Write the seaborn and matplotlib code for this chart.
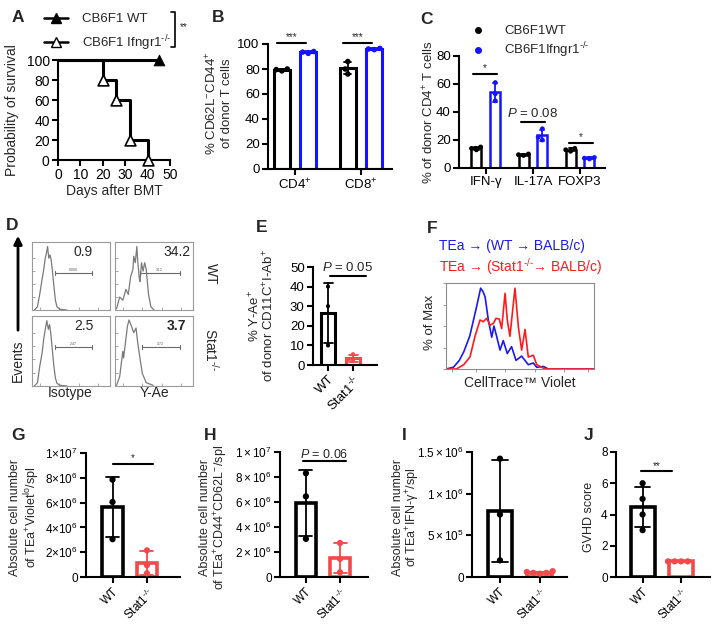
import matplotlib
matplotlib.use('Agg')
import matplotlib.pyplot as plt
import seaborn as sns
import pandas as pd
from matplotlib.lines import Line2D

# ---------------- data ----------------
# A: survival after BMT
surv_days_wt = [0, 45]
surv_pct_wt = [100, 100]
surv_days_ko = [0, 20, 26, 32, 40]
surv_pct_ko = [100, 80, 60, 20, 0]

# B: % CD62L-CD44+ of donor T cells
b_cells = ['CD4', 'CD8']
b_wt_cd4 = [79.5, 80.0, 78.5]
b_ko_cd4 = [93.5, 94.0, 92.5]
b_wt_cd8 = [86.0, 80.0, 76.0]
b_ko_cd8 = [96.0, 96.5, 95.5]

# C: % of donor CD4+ T cells
c_cyto = ['IFN-γ', 'IL-17A', 'FOXP3']
c_wt_ifng = [15, 14, 13]
c_ko_ifng = [61, 53, 48]
c_wt_il17 = [10, 9.5, 9]
c_ko_il17 = [28, 22, 20]
c_wt_foxp3 = [14, 13, 12]
c_ko_foxp3 = [7.5, 7, 6.5]

# D: flow histograms (axis fraction units), gate percentages
d_wt_iso_x = [0.03, 0.07, 0.10, 0.13, 0.15, 0.17, 0.185, 0.20, 0.215, 0.23, 0.245, 0.26, 0.28, 0.30, 0.32, 0.36, 0.45]
d_wt_iso_y = [0.0, 0.05, 0.25, 0.48, 0.62, 0.8, 0.88, 0.98, 0.8, 0.85, 0.78, 0.62, 0.38, 0.15, 0.05, 0.01, 0.0]
d_wt_yae_x = [0.02, 0.06, 0.10, 0.14, 0.17, 0.20, 0.23, 0.24, 0.26, 0.28, 0.29, 0.31, 0.32, 0.34, 0.36, 0.38, 0.40, 0.43, 0.46, 0.50]
d_wt_yae_y = [0.02, 0.2, 0.15, 0.32, 0.24, 0.51, 0.63, 0.83, 0.73, 0.98, 0.78, 0.5, 0.44, 0.73, 0.6, 0.73, 0.63, 0.24, 0.05, 0.0]
d_ko_iso_x = [0.03, 0.07, 0.10, 0.13, 0.15, 0.17, 0.19, 0.21, 0.225, 0.24, 0.26, 0.28, 0.30, 0.32, 0.36, 0.45]
d_ko_iso_y = [0.0, 0.05, 0.3, 0.5, 0.7, 0.85, 0.98, 0.85, 0.92, 0.8, 0.55, 0.3, 0.12, 0.04, 0.01, 0.0]
d_ko_yae_x = [0.02, 0.06, 0.10, 0.11, 0.14, 0.16, 0.18, 0.21, 0.24, 0.27, 0.29, 0.32, 0.35, 0.40, 0.49]
d_ko_yae_y = [0.01, 0.14, 0.52, 0.42, 0.71, 0.9, 0.99, 0.9, 0.8, 0.87, 0.66, 0.42, 0.19, 0.05, 0.01]
d_big = ['0.9', '34.2', '2.5', '3.7']
d_small = ['0.880', '34.2', '2.47', '3.72']

# E: % Y-Ae+ of donor CD11C+I-Ab+
e_wt = [40, 30, 10]
e_ko = [5.5, 3.0, 2.0]

# F: CellTrace Violet dilution (axis fraction units)
f_wt_x = [0.0, 0.05, 0.09, 0.12, 0.16, 0.19, 0.21, 0.234, 0.25, 0.264, 0.286, 0.309, 0.324, 0.342, 0.365,
          0.387, 0.414, 0.443, 0.473, 0.511, 0.556, 0.59, 0.613, 0.658, 0.691, 1.0]
f_wt_y = [0.0, 0.02, 0.1, 0.2, 0.38, 0.6, 0.75, 0.94, 0.9, 0.84, 0.57, 0.37, 0.5, 0.38, 0.22,
          0.33, 0.18, 0.26, 0.1, 0.15, 0.05, 0.07, 0.02, 0.03, 0.0, 0.0]
f_ko_x = [0.0, 0.07, 0.12, 0.162, 0.196, 0.23, 0.252, 0.275, 0.297, 0.32, 0.338, 0.36, 0.376, 0.399, 0.414,
          0.432, 0.466, 0.489, 0.511, 0.534, 0.556, 0.59, 0.613, 0.647, 0.67, 1.0]
f_ko_y = [0.0, 0.0, 0.05, 0.14, 0.38, 0.57, 0.55, 0.59, 0.51, 0.53, 0.59, 0.58, 0.47, 0.88, 0.57,
          0.38, 0.94, 0.49, 0.22, 0.46, 0.14, 0.16, 0.05, 0.02, 0.0, 0.0]

# G-J: absolute numbers and GVHD score
g_wt = [7.85e6, 6.05e6, 3.05e6]
g_ko = [2.15e6, 0.95e6, 0.3e6]
h_wt = [8.3e6, 6.45e6, 3.05e6]
h_ko = [2.72e6, 1.45e6, 0.38e6]
i_wt = [1.42e6, 0.75e6, 0.2e6]
i_ko = [0.07e6, 0.05e6, 0.06e6, 0.04e6, 0.05e6]
j_wt = [6, 5, 4, 3]
j_ko = [1, 1, 1, 1]

BLACK = 'black'
BLUE = '#1414ff'
RED = '#f24a4a'
KO = r'$^{\text{-/-}}$'

# ---------------- style ----------------
sns.set_theme(style='ticks')
plt.rcParams['font.family'] = ['Liberation Sans', 'DejaVu Sans']
plt.rcParams.update({
    'mathtext.fontset': 'custom',
    'mathtext.rm': 'Liberation Sans',
    'mathtext.it': 'Liberation Sans:italic',
    'mathtext.bf': 'Liberation Sans:bold',
    'mathtext.default': 'rm',
    'axes.linewidth': 1.5,
    'axes.edgecolor': 'black',
    'xtick.major.width': 1.5, 'ytick.major.width': 1.5,
    'xtick.major.size': 4, 'ytick.major.size': 4,
    'xtick.major.pad': 2, 'ytick.major.pad': 2,
    'xtick.color': 'black', 'ytick.color': 'black',
    'font.size': 9,
})

W, H = 721, 630
fig = plt.figure(figsize=(W / 100, H / 100), dpi=100)


def box(l, t, r, b):
    return fig.add_axes([l / W, 1 - b / H, (r - l) / W, (b - t) / H])


def ftxt(x, y, s, **kw):
    kw.setdefault('ha', 'center')
    kw.setdefault('va', 'center')
    fig.text(x / W, 1 - y / H, s, **kw)


def long_df(groups):
    rows = []
    for (cat, strain), vals in groups.items():
        for v in vals:
            rows.append((cat, strain, v))
    return pd.DataFrame(rows, columns=['cat', 'strain', 'val'])


def bar_panel(ax, df, x, pal, lw, width, gap, cap, dodge, msize=4):
    sns.barplot(data=df, x=x, y='val', hue='strain', palette=pal, fill=False,
                errorbar='sd', capsize=cap, linewidth=lw, width=width, gap=gap,
                dodge=dodge, err_kws={'linewidth': 1.3}, legend=False, ax=ax)
    sns.swarmplot(data=df, x=x, y='val', hue='strain', palette=pal, dodge=dodge,
                  size=msize, legend=False, ax=ax, clip_on=False)
    sns.despine(ax=ax)
    ax.set_xlabel('')
    ax.set_ylabel('')


def sig(ax, x0, x1, y, label, dy, fs=7, lw=1.5):
    ax.plot([x0, x1], [y, y], color='black', lw=lw, clip_on=False)
    ax.text((x0 + x1) / 2, y + dy, label, ha='center', va='bottom', fontsize=fs, clip_on=False)


# panel letters
for lab, (px, py) in {'A': (18, 17), 'B': (218, 17), 'C': (427, 19), 'D': (12, 225), 'E': (262, 227),
                      'F': (432, 228), 'G': (18, 435), 'H': (210, 435), 'I': (404, 435), 'J': (589, 435)}.items():
    ftxt(px, py, lab, fontsize=12.5, fontweight='bold')

# ---------------- A ----------------
axA = box(58, 60, 170, 160)
sns.lineplot(x=surv_days_ko, y=surv_pct_ko, drawstyle='steps-post', color=BLACK, lw=2.2, ax=axA)
sns.lineplot(x=surv_days_wt, y=surv_pct_wt, color=BLACK, lw=2.2, ax=axA)
sns.scatterplot(x=surv_days_ko[1:], y=surv_pct_ko[1:], marker='^', color='white', edgecolor=BLACK,
                linewidth=1.2, s=60, ax=axA, clip_on=False, zorder=5)
sns.scatterplot(x=surv_days_wt[1:], y=surv_pct_wt[1:], marker='^', color=BLACK, edgecolor=BLACK,
                s=60, ax=axA, clip_on=False, zorder=5)
for ln in axA.lines:
    ln.set_clip_on(False)
axA.set_xlim(0, 50)
axA.set_ylim(0, 100)
axA.set_xticks(range(0, 51, 10))
axA.set_yticks(range(0, 101, 20))
axA.tick_params(labelsize=10)
sns.despine(ax=axA)
ftxt(12, 110, 'Probability of survival', rotation=90, fontsize=10)
ftxt(114, 191, 'Days after BMT', fontsize=10)
hA = [Line2D([], [], color=BLACK, lw=1.8, marker='^', ms=6.5, mfc=BLACK),
      Line2D([], [], color=BLACK, lw=1.8, marker='^', ms=6.5, mfc='white')]
fig.legend(handles=hA, labels=['CB6F1 WT', 'CB6F1 Ifngr1' + KO], loc='upper left',
           bbox_to_anchor=(44 / W, 1 - 13 / H), frameon=False, fontsize=9.5, handlelength=1.8,
           handletextpad=1.1, labelspacing=0.6, borderpad=0, borderaxespad=0)
fig.add_artist(Line2D([171 / W, 175 / W, 175 / W, 171 / W], [1 - 12 / H, 1 - 12 / H, 1 - 47 / H, 1 - 47 / H],
                      color=BLACK, lw=1.2))
ftxt(184, 27, '**', fontsize=7)

# ---------------- B ----------------
dfB = long_df({('CD4', 'WT'): b_wt_cd4, ('CD4', 'KO'): b_ko_cd4,
               ('CD8', 'WT'): b_wt_cd8, ('CD8', 'KO'): b_ko_cd8})
axB = box(268, 44, 392, 169)
bar_panel(axB, dfB, 'cat', {'WT': BLACK, 'KO': BLUE}, lw=2.2, width=0.8, gap=0.4, cap=0.22, dodge=True)
axB.set_ylim(0, 100)
axB.set_yticks(range(0, 101, 20))
axB.set_xlim(-0.41, 1.47)
axB.set_xticks([0, 1], [r'CD4$^{+}$', r'CD8$^{+}$'])
axB.tick_params(labelsize=9.5)
for i in range(2):
    sig(axB, i - 0.27, i + 0.16, 101, '***', 0.5)
ftxt(212, 103, r'% CD62L$^{-}$CD44$^{+}$', rotation=90, fontsize=9.5)
ftxt(227, 103, 'of donor T cells', rotation=90, fontsize=9.5)

# ---------------- C ----------------
dfC = long_df({('IFN', 'WT'): c_wt_ifng, ('IFN', 'KO'): c_ko_ifng,
               ('IL17', 'WT'): c_wt_il17, ('IL17', 'KO'): c_ko_il17,
               ('FOXP3', 'WT'): c_wt_foxp3, ('FOXP3', 'KO'): c_ko_foxp3})
axC = box(459, 56, 605, 168)
bar_panel(axC, dfC, 'cat', {'WT': BLACK, 'KO': BLUE}, lw=1.8, width=0.8, gap=0.47, cap=0.18, dodge=True,
          msize=3.5)
axC.set_ylim(0, 80)
axC.set_yticks(range(0, 81, 20))
axC.set_xlim(-0.57, 2.53)
axC.set_xticks([0, 1, 2], c_cyto)
axC.tick_params(labelsize=9.5)
sig(axC, -0.28, 0.23, 67, '*', 0.5)
sig(axC, 1 - 0.26, 1 + 0.26, 33, r'$\it{P}$ = 0.08', 1.5, fs=9.5)
sig(axC, 2 - 0.23, 2 + 0.28, 18, '*', 0.5)
ftxt(429, 112, r'% of donor CD4$^{+}$ T cells', rotation=90, fontsize=9.5)
hC = [Line2D([], [], ls='none', marker='o', ms=4, color=BLACK),
      Line2D([], [], ls='none', marker='o', ms=4, color=BLUE)]
fig.legend(handles=hC, labels=['CB6F1WT', 'CB6F1Ifngr1' + KO], loc='upper left',
           bbox_to_anchor=(471 / W, 1 - 25 / H), frameon=False, fontsize=9.5, handlelength=1.0,
           handletextpad=1.5, labelspacing=0.25, borderpad=0, borderaxespad=0)

# ---------------- D ----------------
d_boxes = [(32, 242, 110, 310), (115, 242, 193, 310), (32, 316, 110, 386), (115, 316, 193, 386)]
d_curves = [(d_wt_iso_x, d_wt_iso_y), (d_wt_yae_x, d_wt_yae_y), (d_ko_iso_x, d_ko_iso_y), (d_ko_yae_x, d_ko_yae_y)]
d_gates = [(0.30, 0.77, 0.57), (0.32, 0.83, 0.57), (0.30, 0.77, 0.58), (0.34, 0.83, 0.58)]
for k, (bx, (cx, cy), (g0, g1, gy)) in enumerate(zip(d_boxes, d_curves, d_gates)):
    ax = box(*bx)
    sns.lineplot(x=cx, y=cy, color='#7a7a7a', lw=0.9, ax=ax, sort=False, estimator=None)
    ax.set_xlim(0, 1)
    ax.set_ylim(0, 1.05)
    for s in ax.spines.values():
        s.set_color('#9a9a9a')
        s.set_linewidth(0.8)
    ax.set_xticks([0.1, 0.35, 0.6, 0.85])
    ax.set_yticks([0.2, 0.4, 0.6, 0.8])
    ax.tick_params(direction='in', length=2, width=0.6, color='#9a9a9a', labelbottom=False, labelleft=False)
    ax.plot([g0, g1], [gy, gy], color='#6a6a6a', lw=0.8)
    ax.plot([g0, g0], [gy - 0.03, gy + 0.03], color='#6a6a6a', lw=0.8)
    ax.plot([g1, g1], [gy - 0.03, gy + 0.03], color='#6a6a6a', lw=0.8)
    ax.text((g0 + g1) / 2, gy + 0.02, d_small[k], fontsize=2.5, ha='center', va='bottom', color='#555555')
    ax.text(0.66 if k % 2 == 0 else 0.79, 0.9, d_big[k], fontsize=10, ha='center', va='center',
            fontweight='bold' if k == 3 else 'normal')
fig.add_artist(matplotlib.patches.FancyArrowPatch((18 / W, 1 - 333 / H), (18 / W, 1 - 233 / H),
                                                  arrowstyle='-|>', mutation_scale=12, lw=2, color=BLACK))
ftxt(18, 361, 'Events', rotation=90, fontsize=10)
ftxt(70, 393, 'Isotype', fontsize=10)
ftxt(154, 393, 'Y-Ae', fontsize=10)
ftxt(211, 274, 'WT', rotation=-90, fontsize=10)
ftxt(211, 350, 'Stat1' + KO, rotation=-90, fontsize=10)

# ---------------- E ----------------
strain_pal = {'WT': BLACK, 'Stat1': RED}
ko_ticks = ['WT', 'Stat1' + KO]
dfE = long_df({('WT', 'WT'): e_wt, ('Stat1', 'Stat1'): e_ko})
axE = box(313, 267, 377, 365)
bar_panel(axE, dfE, 'cat', strain_pal, lw=2.2, width=0.56, gap=0, cap=0.36, dodge=False, msize=3)
axE.set_ylim(0, 50)
axE.set_yticks(range(0, 51, 10))
axE.set_xlim(-0.6, 1.96)
axE.set_xticks([0, 1], ko_ticks, rotation=45, ha='right', rotation_mode='anchor')
axE.tick_params(labelsize=9.5)
sig(axE, 0.08, 1.52, 45.2, r'$\it{P}$ = 0.05', 1.0, fs=9.5)
ftxt(255, 316, r'% Y-Ae$^{+}$', rotation=90, fontsize=9.5)
ftxt(269, 316, r'of donor CD11C$^{+}$I-Ab$^{+}$', rotation=90, fontsize=9.5)

# ---------------- F ----------------
axF = box(446, 283, 594, 369)
sns.lineplot(x=f_wt_x, y=f_wt_y, color='#1a1aee', lw=1.2, ax=axF, sort=False, estimator=None)
sns.lineplot(x=f_ko_x, y=f_ko_y, color='#ff1a1a', lw=1.2, ax=axF, sort=False, estimator=None)
axF.set_xlim(0, 1)
axF.set_ylim(0, 1.0)
for s in axF.spines.values():
    s.set_color('#8a8a8a')
    s.set_linewidth(0.8)
axF.set_xticks([0.04, 0.2, 0.4, 0.6, 0.8, 0.96])
axF.set_yticks([0, 0.25, 0.5, 0.75, 1.0])
axF.tick_params(direction='out', length=2.5, width=0.6, color='#8a8a8a', labelbottom=False, labelleft=False)
ftxt(430, 322, '% of Max', rotation=90, fontsize=9.5)
ftxt(520, 383, 'CellTrace™ Violet', fontsize=10)
ftxt(439, 246, 'TEa → (WT → BALB/c)', ha='left', fontsize=10, color='#1a1aee')
ftxt(439, 267, 'TEa → (Stat1' + KO + '→ BALB/c)', ha='left', fontsize=10, color='#ff1a1a')

# ---------------- G-J ----------------
panels = [
    ('G', g_wt, g_ko, (86, 453, 180, 577), (-0.77, 1.96), 0.6,
     [0, 2e6, 4e6, 6e6, 8e6, 1e7],
     ['0', r'$2{\times}10^{6}$', r'$4{\times}10^{6}$', r'$6{\times}10^{6}$', r'$8{\times}10^{6}$', r'$1{\times}10^{7}$'],
     (0.01, 1.17, 9.1e6, '*'), ['Absolute cell number', r'of TEa$^{+}$Violet$^{lo}$/spl'], (15, 32)),
    ('H', h_wt, h_ko, (280, 452, 368, 577), (-0.76, 1.82), 0.6,
     [0, 2e6, 4e6, 6e6, 8e6, 1e7],
     ['0', r'$2\times10^{6}$', r'$4\times10^{6}$', r'$6\times10^{6}$', r'$8\times10^{6}$', r'$1\times10^{7}$'],
     (-0.09, 1.18, 9.27e6, r'$\it{P}$ = 0.06'), ['Absolute cell number', r'of TEa$^{+}$CD44$^{+}$CD62L$^{-}$/spl'],
     (205, 221)),
    ('I', i_wt, i_ko, (472, 452, 567, 577), (-0.7, 1.68), 0.62,
     [0, 5e5, 1e6, 1.5e6],
     ['0', r'$5\times10^{5}$', r'$1\times10^{6}$', r'$1.5\times10^{6}$'],
     None, ['Absolute cell number', r'of TEa$^{+}$IFN-γ$^{+}$/spl'], (398, 413)),
    ('J', j_wt, j_ko, (616, 452, 710, 577), (-0.69, 1.75), 0.62,
     [0, 2, 4, 6, 8], ['0', '2', '4', '6', '8'],
     (-0.04, 0.77, 6.76, '**'), ['GVHD score'], (589,)),
]
for name, wt, ko, bx, xl, bw, yt, ytl, sg, ylab, ylx in panels:
    df = long_df({('WT', 'WT'): wt, ('Stat1', 'Stat1'): ko})
    ax = box(*bx)
    bar_panel(ax, df, 'cat', strain_pal, lw=2.6, width=bw, gap=0, cap=0.38, dodge=False, msize=4.5)
    ax.set_ylim(yt[0], yt[-1])
    ax.set_yticks(yt, ytl)
    ax.set_xlim(*xl)
    ax.set_xticks([0, 1], ko_ticks, rotation=45, ha='right', rotation_mode='anchor')
    ax.tick_params(labelsize=8.5)
    if sg is not None:
        fs = 9 if 'P' in sg[3] else 7
        sig(ax, sg[0], sg[1], sg[2], sg[3], (yt[-1] - yt[0]) * 0.005, fs=fs)
    for txt, lx in zip(ylab, ylx):
        ftxt(lx, 517, txt, rotation=90, fontsize=9)

fig.savefig('out.png', dpi=100)
